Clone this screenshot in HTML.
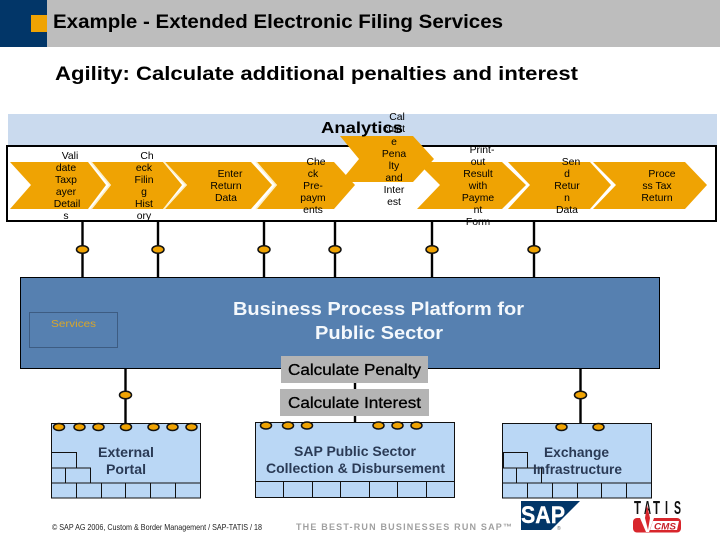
<!DOCTYPE html>
<html><head><meta charset="utf-8"><style>
html,body{margin:0;padding:0;background:#fff;width:720px;height:540px;overflow:hidden}
svg{display:block}
text{font-family:"Liberation Sans",sans-serif}
.s{font-size:10.4px;fill:#000;text-anchor:middle}
.o{fill:#EFA303}
.e{fill:#EFA303;stroke:#111;stroke-width:1.5}
.t{fill:#BAD7F5;stroke:#111;stroke-width:1}
.l{stroke:#111;stroke-width:1;fill:none}
.gap{fill:none;stroke:#FBEFC8;stroke-width:1.5}
</style></head><body>
<svg width="720" height="540" viewBox="0 0 720 540" xmlns="http://www.w3.org/2000/svg">
<rect x="47" y="0" width="673" height="47" fill="#BDBDBD"/>
<rect x="0" y="0" width="47" height="47" fill="#023668"/>
<rect x="31" y="15" width="16" height="17" fill="#EFA303"/>
<text x="53" y="28" font-size="19" font-weight="bold" fill="#000" textLength="450" lengthAdjust="spacingAndGlyphs">Example - Extended Electronic Filing Services</text>
<text x="55" y="80" font-size="19" font-weight="bold" fill="#000" textLength="523" lengthAdjust="spacingAndGlyphs">Agility: Calculate additional penalties and interest</text>

<rect x="8" y="114" width="709" height="33" fill="#CADAEE"/>
<rect x="7" y="146" width="709" height="75" fill="#fff" stroke="#000" stroke-width="2"/>

<polygon class="o" points="10,162 88,162 106,185 88,209 10,209 31,185"/>
<polygon class="o" points="92,162 163,162 182,185 163,209 92,209 111,185"/>
<polyline class="gap" points="91,162 110,185 91,209"/>
<polygon class="o" points="165,162 251,162 272,185 251,209 165,209 187,185"/>
<polyline class="gap" points="164,162 186,185 164,209"/>
<polygon class="o" points="257,162 334,162 355,185 334,209 257,209 277,185"/>
<polyline class="gap" points="256,162 276,185 256,209"/>
<polygon class="o" points="417,162 502,162 526,185 502,209 417,209 440,185"/>
<polygon class="o" points="508,162 590,162 611,185 590,209 508,209 530,185"/>
<polygon class="o" points="593,162 685,162 707,185 685,209 593,209 616,185"/>
<polygon class="o" points="340,136 413,136 434,159 413,182 340,182 359,159"/>

<text x="321" y="133" font-size="16" font-weight="bold" fill="#000" textLength="82" lengthAdjust="spacingAndGlyphs">Analytics</text>

<text class="s" x="70" y="159">Vali</text><text class="s" x="66" y="171">date</text><text class="s" x="66" y="183">Taxp</text><text class="s" x="66" y="195">ayer</text><text class="s" x="67" y="207">Detail</text><text class="s" x="66" y="219">s</text>
<text class="s" x="147" y="159">Ch</text><text class="s" x="144" y="171">eck</text><text class="s" x="144" y="183">Filin</text><text class="s" x="144" y="195">g</text><text class="s" x="144" y="207">Hist</text><text class="s" x="144" y="219">ory</text>
<text class="s" x="230" y="177">Enter</text><text class="s" x="226" y="189">Return</text><text class="s" x="226" y="201">Data</text>
<text class="s" x="316" y="165">Che</text><text class="s" x="313" y="177">ck</text><text class="s" x="313" y="189">Pre-</text><text class="s" x="313" y="201">paym</text><text class="s" x="313" y="213">ents</text>
<text class="s" x="397" y="120">Cal</text><text class="s" x="394" y="132">culat</text><text class="s" x="394" y="145">e</text><text class="s" x="394" y="157">Pena</text><text class="s" x="394" y="169">lty</text><text class="s" x="394" y="181">and</text><text class="s" x="394" y="193">Inter</text><text class="s" x="394" y="205">est</text>
<text class="s" x="482" y="153">Print-</text><text class="s" x="478" y="165">out</text><text class="s" x="478" y="177">Result</text><text class="s" x="478" y="189">with</text><text class="s" x="478" y="201">Payme</text><text class="s" x="478" y="213">nt</text><text class="s" x="478" y="225">Form</text>
<text class="s" x="571" y="165">Sen</text><text class="s" x="567" y="177">d</text><text class="s" x="567" y="189">Retur</text><text class="s" x="567" y="201">n</text><text class="s" x="567" y="213">Data</text>
<text class="s" x="662" y="177">Proce</text><text class="s" x="657" y="189">ss Tax</text><text class="s" x="657" y="201">Return</text>

<g stroke="#000" stroke-width="2.4">
<line x1="82.5" y1="221" x2="82.5" y2="278"/><line x1="158" y1="221" x2="158" y2="278"/><line x1="264" y1="221" x2="264" y2="278"/><line x1="335" y1="221" x2="335" y2="278"/><line x1="432" y1="221" x2="432" y2="278"/><line x1="534" y1="221" x2="534" y2="278"/>
<line x1="125.5" y1="368" x2="125.5" y2="423"/><line x1="580.5" y1="368" x2="580.5" y2="423"/>
<line x1="355" y1="383" x2="355" y2="423"/>
</g>
<ellipse class="e" cx="82.5" cy="249.5" rx="6" ry="3.8"/><ellipse class="e" cx="158" cy="249.5" rx="6" ry="3.8"/><ellipse class="e" cx="264" cy="249.5" rx="6" ry="3.8"/><ellipse class="e" cx="335" cy="249.5" rx="6" ry="3.8"/><ellipse class="e" cx="432" cy="249.5" rx="6" ry="3.8"/><ellipse class="e" cx="534" cy="249.5" rx="6" ry="3.8"/>
<ellipse class="e" cx="125.5" cy="395" rx="6" ry="3.8"/><ellipse class="e" cx="580.5" cy="395" rx="6" ry="3.8"/>

<rect x="20.5" y="277.5" width="639" height="91" fill="#5680B0" stroke="#000" stroke-width="1"/>
<rect x="29.5" y="312.5" width="88" height="35" fill="none" stroke="#3D5C82" stroke-width="1"/>
<text x="51" y="327" font-size="10.5" fill="#D9A62A" textLength="45" lengthAdjust="spacingAndGlyphs">Services</text>
<text x="233" y="315" font-size="18.5" font-weight="bold" fill="#F4F8FC" textLength="291" lengthAdjust="spacingAndGlyphs">Business Process Platform for</text>
<text x="315" y="339" font-size="18.5" font-weight="bold" fill="#F4F8FC" textLength="128" lengthAdjust="spacingAndGlyphs">Public Sector</text>

<rect x="281" y="356" width="147" height="27" fill="#B4B4B4"/>
<text x="288" y="375" font-size="15.5" fill="#000" stroke="#000" stroke-width=".3" textLength="133" lengthAdjust="spacingAndGlyphs">Calculate Penalty</text>
<rect x="280" y="389" width="149" height="27" fill="#B4B4B4"/>
<text x="288" y="408" font-size="15.5" fill="#000" stroke="#000" stroke-width=".3" textLength="133" lengthAdjust="spacingAndGlyphs">Calculate Interest</text>

<!-- External Portal -->
<rect class="t" x="51.5" y="423.5" width="149" height="74.5"/>
<path class="l" d="M51.5 483H200.500M76.500 483V498M101.500 483V498M125.500 483V498M150.500 483V498M175.500 483V498M51.500 452.500H76.500V468M51.500 468H90.500V483M65.500 468V483"/>
<ellipse class="e" cx="59" cy="427" rx="5.5" ry="3.5"/><ellipse class="e" cx="79.5" cy="427" rx="5.5" ry="3.5"/><ellipse class="e" cx="98.5" cy="427" rx="5.5" ry="3.5"/><ellipse class="e" cx="126" cy="427" rx="5.5" ry="3.5"/><ellipse class="e" cx="153.5" cy="427" rx="5.5" ry="3.5"/><ellipse class="e" cx="172.5" cy="427" rx="5.5" ry="3.5"/><ellipse class="e" cx="191.5" cy="427" rx="5.5" ry="3.5"/>
<text x="98" y="457" font-size="13.5" font-weight="bold" fill="#2a3a55" textLength="56" lengthAdjust="spacingAndGlyphs">External</text>
<text x="106" y="474" font-size="13.5" font-weight="bold" fill="#2a3a55" textLength="40" lengthAdjust="spacingAndGlyphs">Portal</text>

<!-- SAP -->
<rect class="t" x="255.5" y="422.5" width="199" height="75"/>
<path class="l" d="M255.5 481.500H454.500M283.500 481.500V497.500M312.500 481.500V497.500M340.500 481.500V497.500M369.500 481.500V497.500M397.500 481.500V497.500M426.500 481.500V497.500"/>
<ellipse class="e" cx="266" cy="425.5" rx="5.5" ry="3.5"/><ellipse class="e" cx="288" cy="425.5" rx="5.5" ry="3.5"/><ellipse class="e" cx="307" cy="425.5" rx="5.5" ry="3.5"/><ellipse class="e" cx="378.5" cy="425.5" rx="5.5" ry="3.5"/><ellipse class="e" cx="397.5" cy="425.5" rx="5.5" ry="3.5"/><ellipse class="e" cx="416.5" cy="425.5" rx="5.5" ry="3.5"/>
<text x="294" y="456" font-size="13.5" font-weight="bold" fill="#2a3a55" textLength="122" lengthAdjust="spacingAndGlyphs">SAP Public Sector</text>
<text x="266" y="473" font-size="13.5" font-weight="bold" fill="#2a3a55" textLength="179" lengthAdjust="spacingAndGlyphs">Collection &amp; Disbursement</text>

<!-- Exchange -->
<rect class="t" x="502.5" y="423.5" width="149" height="74.5"/>
<path class="l" d="M502.5 483H651.500M527.500 483V498M552.500 483V498M577.500 483V498M601.500 483V498M626.500 483V498M503 452.500H527.500V468M503 468H541.500V483M516.500 468V483"/>
<line x1="503" y1="452" x2="503" y2="468" stroke="#111" stroke-width="2"/>
<ellipse class="e" cx="561.5" cy="427" rx="5.5" ry="3.5"/><ellipse class="e" cx="598.5" cy="427" rx="5.5" ry="3.5"/>
<text x="544" y="457" font-size="13.5" font-weight="bold" fill="#2a3a55" textLength="65" lengthAdjust="spacingAndGlyphs">Exchange</text>
<text x="533" y="474" font-size="13.5" font-weight="bold" fill="#2a3a55" textLength="89" lengthAdjust="spacingAndGlyphs">Infrastructure</text>

<!-- Footer -->
<text x="52" y="530" font-size="8.3" fill="#222" textLength="210" lengthAdjust="spacingAndGlyphs">© SAP AG 2006, Custom &amp; Border Management / SAP-TATIS / 18</text>
<text x="296" y="530" font-size="9" font-weight="bold" fill="#A0A0A0" textLength="216" lengthAdjust="spacing">THE BEST-RUN BUSINESSES RUN SAP™</text>

<polygon points="521,501 580,501 551,530 521,530" fill="#023668"/>
<text x="521" y="523" font-size="24" font-weight="bold" fill="#fff" stroke="#fff" stroke-width=".4" textLength="44" lengthAdjust="spacingAndGlyphs">SAP</text>
<text x="557" y="530" font-size="5" fill="#666">®</text>

<g font-size="18" font-weight="bold" fill="#111">
<text x="634" y="514" textLength="7" lengthAdjust="spacingAndGlyphs">T</text>
<text x="644" y="514" textLength="7" lengthAdjust="spacingAndGlyphs">A</text>
<text x="653" y="514" textLength="7" lengthAdjust="spacingAndGlyphs">T</text>
<text x="665" y="514" textLength="3" lengthAdjust="spacingAndGlyphs">I</text>
<text x="674" y="514" textLength="7" lengthAdjust="spacingAndGlyphs">S</text>
</g>
<rect x="633" y="518" width="48" height="14.5" rx="4" fill="#D8262C"/>
<polygon points="640,518 654,518 649,532 646,532" fill="#fff"/>
<polygon points="647,505 650,518 648,530 645,518" fill="#D8262C"/>
<polygon points="653,521 679,521 677,530 650,530" fill="#fff"/>
<text x="654" y="529.5" font-size="9" font-weight="bold" font-style="italic" fill="#C8222A" textLength="22" lengthAdjust="spacingAndGlyphs">CMS</text>
</svg>
</body></html>
